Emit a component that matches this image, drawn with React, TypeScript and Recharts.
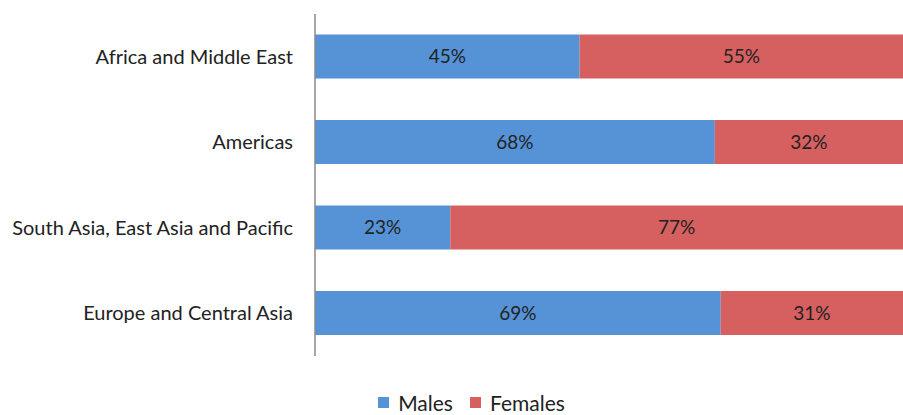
import { BarChart, Bar, XAxis, YAxis, Legend, LabelList } from "recharts";

const regions = [
  "Africa and Middle East",
  "Americas",
  "South Asia, East Asia and Pacific",
  "Europe and Central Asia",
];
const males = [45, 68, 23, 69];
const females = [55, 32, 77, 31];

const data = regions.map((region, i) => ({
  region,
  Males: males[i],
  Females: females[i],
}));

const font = "Lato, 'Open Sans', sans-serif";
const colors: Record<string, string> = { Males: "#5592d6", Females: "#d6605f" };
const seriesOrder = ["Males", "Females"];

function LegendBox() {
  return (
    <div style={{ display: "flex", justifyContent: "center", alignItems: "center", fontFamily: font, fontSize: 21, color: "#222" }}>
      {seriesOrder.map((name) => (
        <div key={name} style={{ display: "flex", alignItems: "center", marginRight: 17 }}>
          <span style={{ width: 11, height: 11, background: colors[name], display: "inline-block", marginRight: 9 }} />
          <span>{name}</span>
        </div>
      ))}
    </div>
  );
}

export default function App() {
  return (
    <div style={{ position: "absolute", left: 0, top: 0, background: "#fff", fontFamily: font }}>
      <BarChart
        width={903}
        height={415}
        data={data}
        layout="vertical"
        margin={{ top: 14, right: 0, bottom: 34, left: 0 }}
        barCategoryGap="24%"
      >
        <XAxis type="number" domain={[0, 100]} hide />
        <YAxis
          type="category"
          dataKey="region"
          width={315}
          tickLine={false}
          tickSize={0}
          tickMargin={22}
          axisLine={{ stroke: "#888", strokeWidth: 1.5 }}
          tick={{ fill: "#222", fontSize: 20, fontFamily: font }}
        />
        <Legend
          verticalAlign="bottom"
          content={() => <LegendBox />}
          wrapperStyle={{ left: 380, width: 200, bottom: 0 }}
        />
        <Bar dataKey="Males" stackId="a" fill={colors.Males} isAnimationActive={false}>
          <LabelList
            dataKey="Males"
            position="center"
            formatter={(v: any) => `${v}%`}
            style={{ fill: "#222", fontSize: 19, fontFamily: font }}
          />
        </Bar>
        <Bar dataKey="Females" stackId="a" fill={colors.Females} isAnimationActive={false}>
          <LabelList
            dataKey="Females"
            position="center"
            formatter={(v: any) => `${v}%`}
            style={{ fill: "#222", fontSize: 19, fontFamily: font }}
          />
        </Bar>
      </BarChart>
    </div>
  );
}
